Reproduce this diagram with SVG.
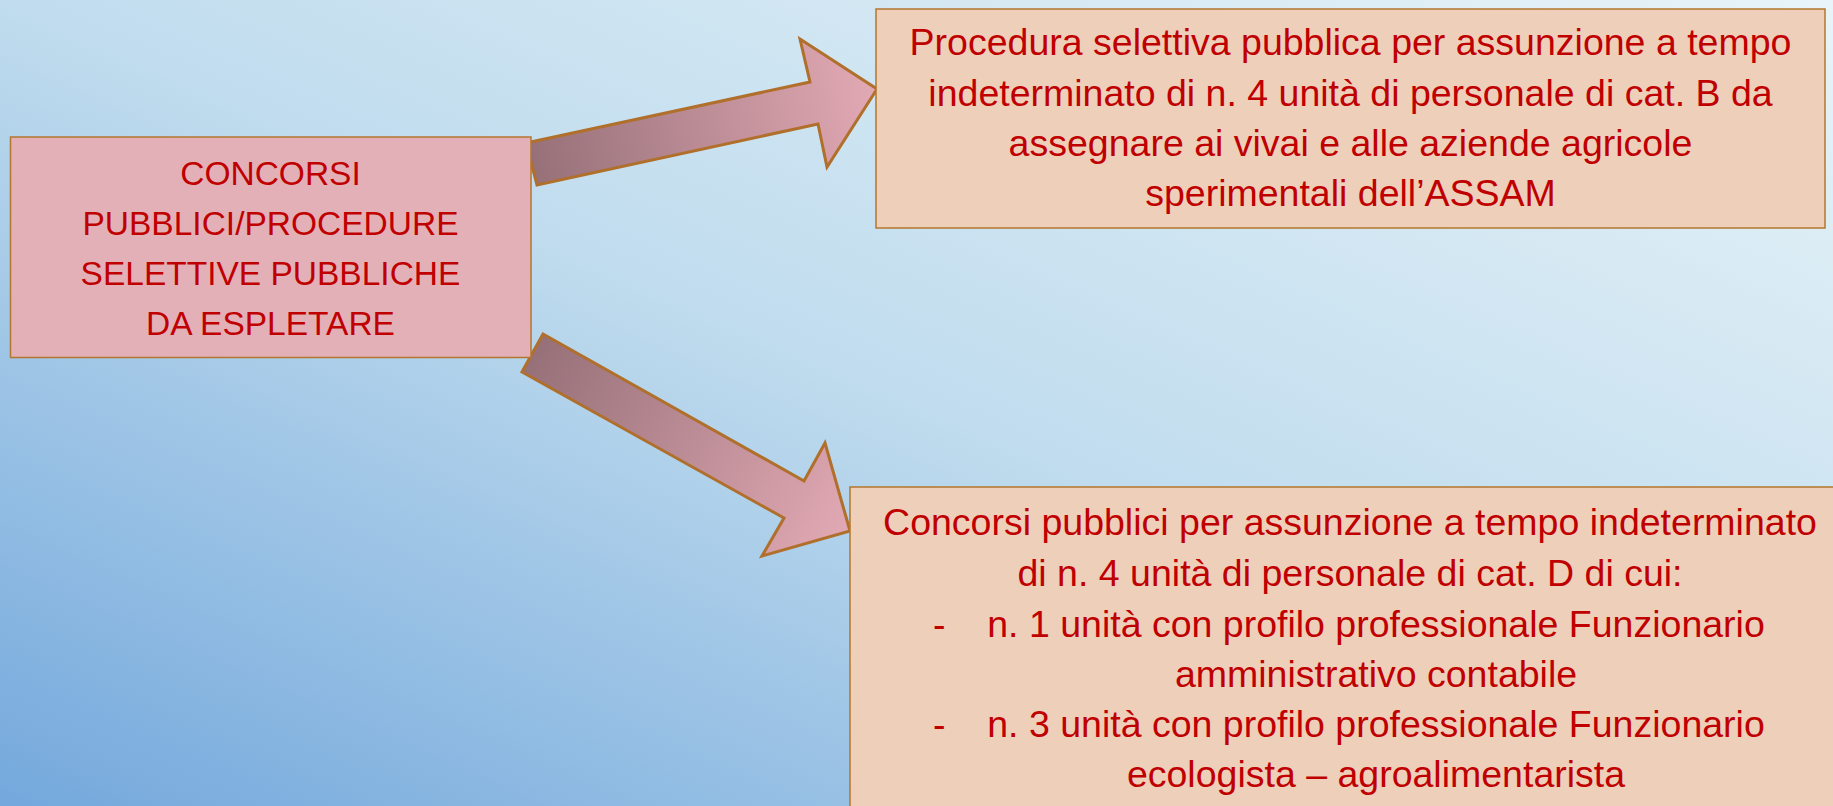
<svg xmlns="http://www.w3.org/2000/svg" width="1833" height="806" viewBox="0 0 1833 806">
  <defs>
    <linearGradient id="bg" x1="1" y1="0" x2="0" y2="1">
      <stop offset="0" stop-color="#e8f4f8"/>
      <stop offset="0.5" stop-color="#c0dcee"/>
      <stop offset="1" stop-color="#74a8dc"/>
    </linearGradient>
    <linearGradient id="ar1" gradientUnits="userSpaceOnUse" x1="530" y1="164" x2="877" y2="89">
      <stop offset="0" stop-color="#967078"/>
      <stop offset="1" stop-color="#e2a9b4"/>
    </linearGradient>
    <linearGradient id="ar2" gradientUnits="userSpaceOnUse" x1="532" y1="353" x2="850" y2="531">
      <stop offset="0" stop-color="#967078"/>
      <stop offset="1" stop-color="#e2a9b4"/>
    </linearGradient>
    <style>
      .box { stroke: #b4762e; stroke-width: 1.5; }
      .src { fill: #e4b0b8; }
      .dst { fill: #eecfba; }
      .arrow { stroke: #b06f2a; stroke-width: 3; stroke-linejoin: miter; }
      text { font-family: "Liberation Sans", Arial, sans-serif; fill: #c00000; }
      .t1 { font-size: 33.5px; text-anchor: middle; }
      .t2 { font-size: 37.5px; text-anchor: middle; }
      .dash { font-size: 37.5px; }
    </style>
  </defs>
  <rect x="0" y="0" width="1833" height="806" fill="url(#bg)"/>

  <g id="connectors">
    <polygon class="arrow" fill="url(#ar1)" points="526,143 810,82 800,39 877,89 827,167 818,124 537,185"/>
    <polygon class="arrow" fill="url(#ar2)" points="543,334 804,481 825,443 850,531 762,556 784,518 522,372"/>
  </g>

  <g id="node-concorsi">
    <rect class="box src" x="10.5" y="137" width="520.5" height="220.5"/>
    <text class="t1" x="270.5" y="185">CONCORSI</text>
    <text class="t1" x="270.5" y="235">PUBBLICI/PROCEDURE</text>
    <text class="t1" x="270.5" y="285">SELETTIVE PUBBLICHE</text>
    <text class="t1" x="270.5" y="335">DA ESPLETARE</text>
  </g>

  <g id="node-cat-b">
    <rect class="box dst" x="876" y="9" width="949" height="219"/>
    <text class="t2" x="1350.5" y="55">Procedura selettiva pubblica per assunzione a tempo</text>
    <text class="t2" x="1350.5" y="106">indeterminato di n. 4 unità di personale di cat. B da</text>
    <text class="t2" x="1350.5" y="156">assegnare ai vivai e alle aziende agricole</text>
    <text class="t2" x="1350.5" y="206">sperimentali dell’ASSAM</text>
  </g>

  <g id="node-cat-d">
    <rect class="box dst" x="850" y="487" width="1010" height="340"/>
    <text class="t2" x="1350" y="535">Concorsi pubblici per assunzione a tempo indeterminato</text>
    <text class="t2" x="1350" y="586">di n. 4 unità di personale di cat. D di cui:</text>
    <text class="dash" x="933" y="637">-</text>
    <text class="t2" x="1376" y="637">n. 1 unità con profilo professionale Funzionario</text>
    <text class="t2" x="1376" y="687">amministrativo contabile</text>
    <text class="dash" x="933" y="737">-</text>
    <text class="t2" x="1376" y="737">n. 3 unità con profilo professionale Funzionario</text>
    <text class="t2" x="1376" y="787">ecologista – agroalimentarista</text>
  </g>
</svg>
